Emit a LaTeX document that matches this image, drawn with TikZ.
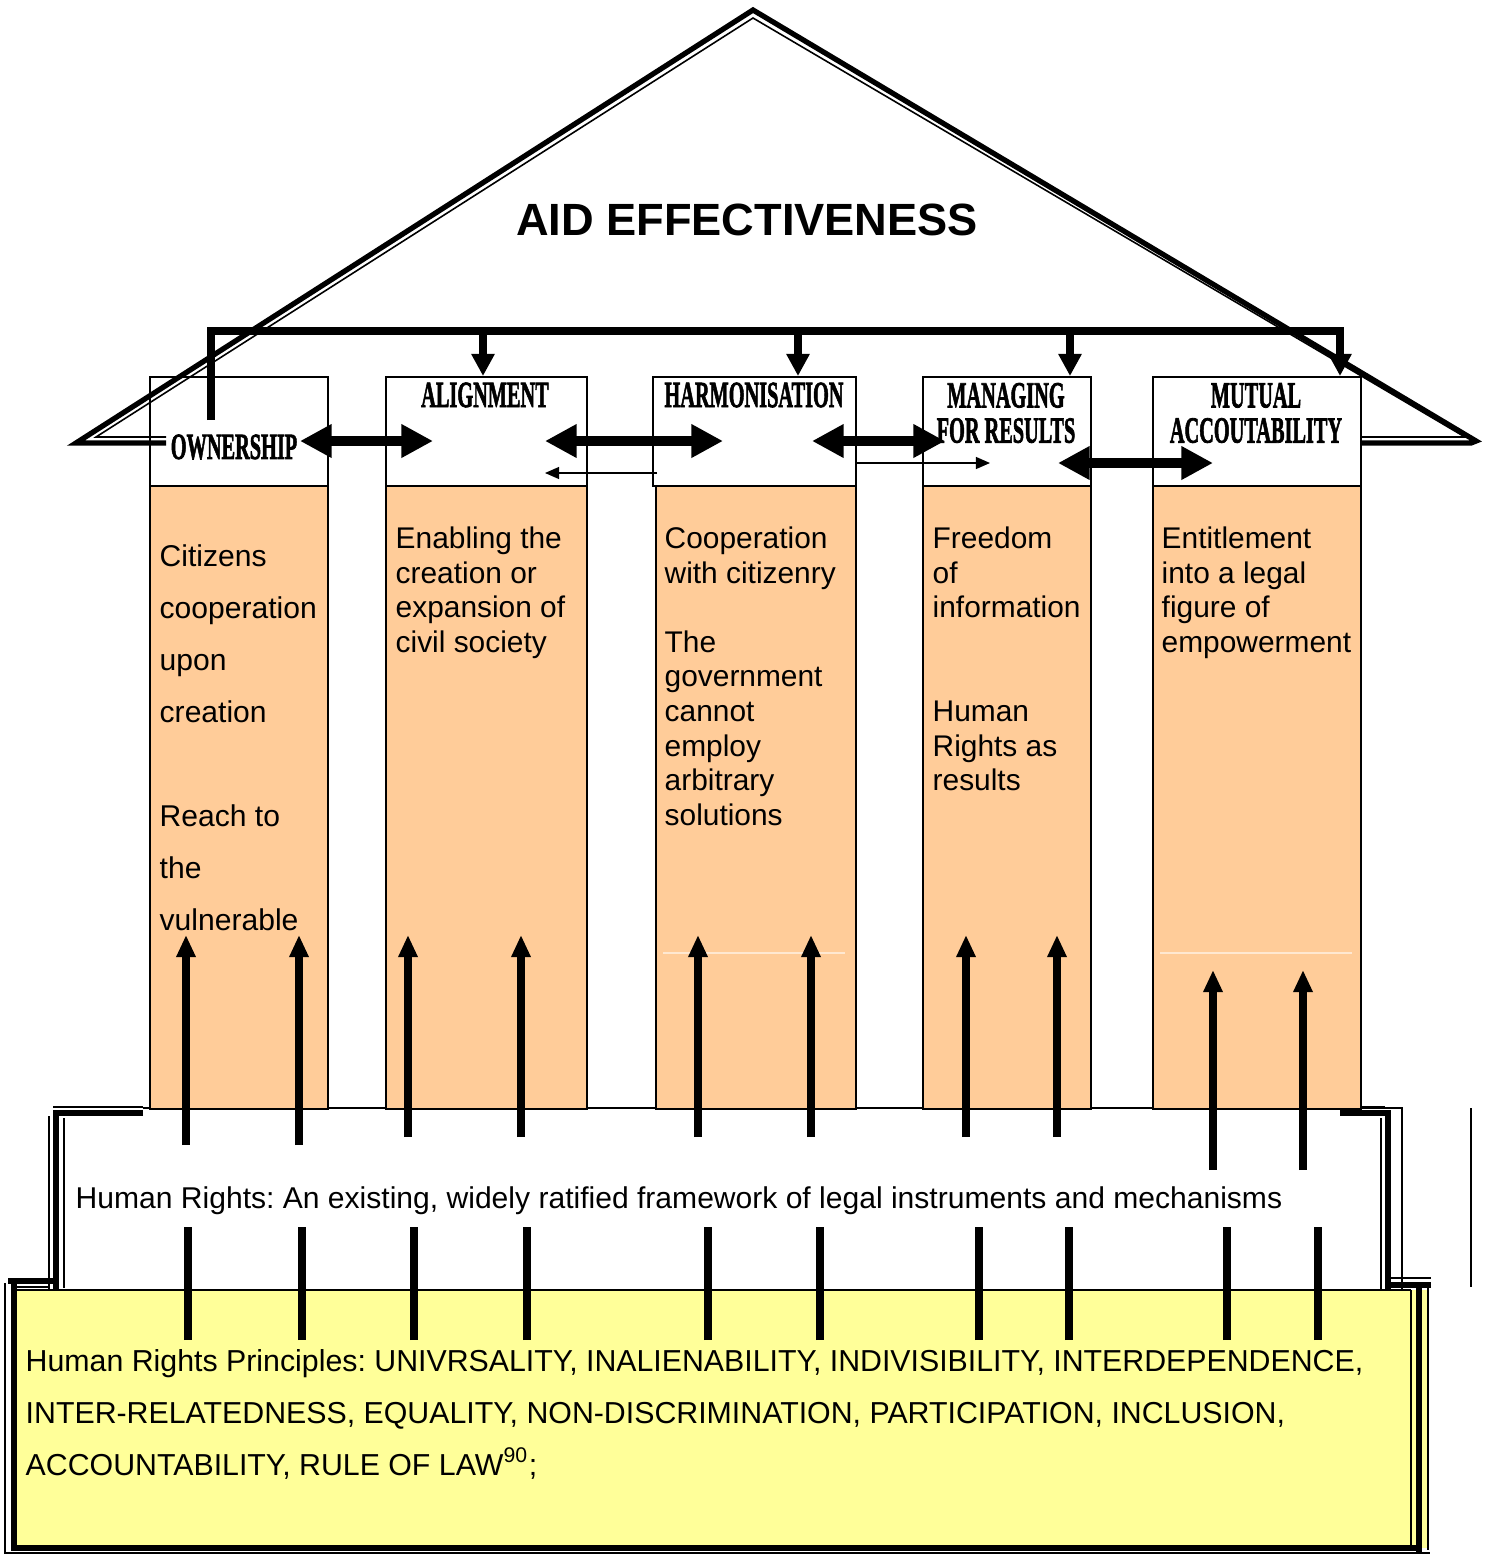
\documentclass[tikz,border=0pt]{standalone}
\usepackage{fontspec}
\setmainfont{Liberation Sans}
\newfontfamily\pillarheadfont[BoldFeatures={FakeBold=2.2}]{Liberation Serif}
\usetikzlibrary{arrows.meta,positioning,calc}
\definecolor{pillarfill}{HTML}{FFCC99}
\definecolor{basefill}{HTML}{FFFF99}
\frenchspacing
\newcommand{\bodysize}{\fontsize{8.55}{14.8}\selectfont}
\newcommand{\basesize}{\fontsize{8.62}{14.8}\selectfont}
\newcommand{\narrowsize}{\fontsize{8.5}{9.85}\selectfont}
\newcommand{\headsize}{\fontsize{10.5}{10}\selectfont}

\tikzset{
  headbox/.style={draw, line width=0.6pt, fill=white, anchor=north west, inner sep=0pt},
  bodybox/.style={draw, line width=0.5pt, fill=pillarfill, anchor=north west, inner sep=0pt},
  headlabel/.style={font=\pillarheadfont\headsize\bfseries, xscale=0.55, align=center, inner sep=0pt},
  pillartext/.style={anchor=north west, align=left, inner sep=0pt},
  bigdouble/.style={line width=2.8pt, {Triangle[length=9pt,width=9pt]}-{Triangle[length=9pt,width=9pt]}},
  thinarrow/.style={line width=0.4pt, -{Triangle[length=4pt,width=3.4pt]}},
  downarrow/.style={line width=2.2pt, line join=miter, -{Triangle[length=6.3pt,width=6.3pt]}},
  uparrow/.style={line width=2pt, -{Triangle[length=6.3pt,width=5.2pt]}},
  stem/.style={line width=2pt},
  thickframe/.style={line width=1.5pt, line join=miter},
  thinframe/.style={line width=0.45pt},
}

\begin{document}
\begin{tikzpicture}[x=0.01cm, y=-0.01cm]
  \useasboundingbox (0,0) rectangle (1486,1554);
  % The base of principles:
  \fill[basefill] (14,1290) rectangle (1428,1548);
  \draw[line width=0.6pt] (14,1290) -- (1411,1290);
  \draw[thinframe] (1411,1290) -- (1411,1548);
  \draw[thickframe] (14,1281) -- (14,1548) -- (1419,1548);
  \draw[thickframe] (1419,1285) -- (1419,1553);
  \draw[thinframe] (5,1283) -- (5,1553) -- (1430,1553);
  \draw[thinframe] (1428,1283) -- (1428,1550);
  % The human rights step:
  \draw[line width=0.5pt] (143,1108) -- (1402,1108) -- (1402,1290);
  \draw[thinframe] (53,1107) -- (143,1107);
  \draw[thickframe] (143,1113) -- (56,1113) -- (56,1290);
  \draw[thickframe] (8,1281) -- (56,1281);
  \draw[thinframe] (49,1116) -- (49,1290) (64,1118) -- (64,1288) (14,1287) -- (49,1287);
  \draw[thinframe] (1340,1107) -- (1385,1107);
  \draw[thickframe] (1340,1113) -- (1388,1113) -- (1388,1290);
  \draw[thickframe] (1388,1285) -- (1431,1285);
  \draw[thinframe] (1381,1118) -- (1381,1290) (1388,1278) -- (1431,1278);
  \draw[thinframe] (1471,1108) -- (1471,1287);
  % Pillars:
  \node[bodybox, minimum width=1.78cm, minimum height=6.23cm] (ownbody) at (149,485) {};
  \node[bodybox, minimum width=2.01cm, minimum height=6.23cm] (alibody) at (385,485) {};
  \node[bodybox, minimum width=2.00cm, minimum height=6.23cm] (harbody) at (655,485) {};
  \node[bodybox, minimum width=1.68cm, minimum height=6.23cm] (manbody) at (922,485) {};
  \node[bodybox, minimum width=2.08cm, minimum height=6.23cm] (mutbody) at (1152,485) {};
  \draw[white!55!pillarfill, line width=0.3pt] (663,953) -- (845,953) (1160,953) -- (1352,953);
  \node[headbox, minimum width=1.78cm, minimum height=1.09cm] (own) at (149,376) {};
  \node[headbox, minimum width=2.01cm, minimum height=1.09cm] (ali) at (385,376) {};
  \node[headbox, minimum width=2.03cm, minimum height=1.09cm] (har) at (652,376) {};
  \node[headbox, minimum width=1.68cm, minimum height=1.09cm] (man) at (922,376) {};
  \node[headbox, minimum width=2.08cm, minimum height=1.09cm] (mut) at (1152,376) {};
  % Labels:
  \node[headlabel] (ownlbl) at (234,447) {OWNERSHIP};
  \node[headlabel] (alilbl) at (485,395) {ALIGNMENT};
  \node[headlabel] (harlbl) at (754,395) {HARMONISATION};
  \node[headlabel] (manlbl) at (1006,413) {MANAGING\\FOR RESULTS};
  \node[headlabel] (mutlbl) at (1256,413) {MUTUAL\\ACCOUTABILITY};
  \node[font=\fontsize{12.85}{15}\selectfont\bfseries] (title) at (747,220) {AID EFFECTIVENESS};
  \node[pillartext, font=\bodysize] (owntext) at (159,544)
    {Citizens\\cooperation\\upon\\creation\\\mbox{}\\Reach to\\the\\vulnerable};
  \node[pillartext, font=\narrowsize] (alitext) at (395,526)
    {Enabling the\\creation or\\expansion of\\civil society};
  \node[pillartext, font=\narrowsize] (hartext) at (664,526)
    {Cooperation\\with citizenry\\\mbox{}\\The\\government\\cannot\\employ\\arbitrary\\solutions};
  \node[pillartext, font=\narrowsize] (mantext) at (932,526)
    {Freedom\\of\\information\\\mbox{}\\\mbox{}\\Human\\Rights as\\results};
  \node[pillartext, font=\narrowsize] (muttext) at (1161,526)
    {Entitlement\\into a legal\\figure of\\empowerment};
  \node[anchor=base west, inner sep=0pt, font=\bodysize] (hrtext) at (75,1208)
    {Human Rights: An existing, widely ratified framework of legal instruments and mechanisms};
  \node[pillartext, font=\basesize] (principles) at (25,1349)
    {Human Rights Principles: UNIVRSALITY, INALIENABILITY, INDIVISIBILITY, INTERDEPENDENCE,\\
     INTER-RELATEDNESS, EQUALITY, NON-DISCRIMINATION, PARTICIPATION, INCLUSION,\\
     ACCOUNTABILITY, RULE OF LAW\textsuperscript{90};};
  % The roof:
  \draw[thickframe] (166,443) -- (76,443) -- (753,10) -- (1476,441) -- (1471,443) -- (1360,443);
  \draw[thinframe] (166,437) -- (96,437) -- (753,18) -- (1465,437) -- (1360,437);
  % Bracket over the pillars:
  \coordinate (barfoot) at (211,420);
  \coordinate (barL) at (211,331);
  \coordinate (barR) at (1340,331);
  \draw[downarrow] (barfoot) -- (barL) -- (barR) -- (barR |- mut.north);
  \foreach \x/\n in {483/ali, 798/har, 1070/man} {
    \coordinate (bar\n) at (\x,331);
    \draw[downarrow] (bar\n) -- (bar\n |- \n.north);
  }
  % Arrows between the headers:
  \foreach \l/\r/\y [count=\i] in {300/433/441, 545/723/441, 812/945/441, 1058/1213/463} {
    \coordinate (hl\i) at (\l,\y);
    \coordinate (hr\i) at (\r,\y);
    \draw[bigdouble] (hl\i) -- (hr\i);
  }
  \coordinate (tl1) at (657,473);
  \coordinate (tr1) at (545,473);
  \coordinate (tl2) at (855,463);
  \coordinate (tr2) at (990,463);
  \draw[thinarrow] (tl1) -- (tr1);
  \draw[thinarrow] (tl2) -- (tr2);
  % Arrows up from the human rights:
  \foreach \x/\s/\e [count=\i] in {186/1145/935, 299/1145/935, 408/1137/935, 521/1137/935,
      698/1137/935, 811/1137/935, 966/1137/935, 1057/1137/935, 1213/1170/970, 1303/1170/970} {
    \coordinate (us\i) at (\x,\s);
    \coordinate (ue\i) at (\x,\e);
    \draw[uparrow] (us\i) -- (ue\i);
  }
  % Stems from the principles:
  \foreach \x [count=\i] in {188, 302, 414, 527, 708, 820, 979, 1069, 1227, 1318} {
    \coordinate (ls\i) at (\x,1340);
    \coordinate (le\i) at (\x,1227);
    \draw[stem] (ls\i) -- (le\i);
  }
\end{tikzpicture}
\end{document}
